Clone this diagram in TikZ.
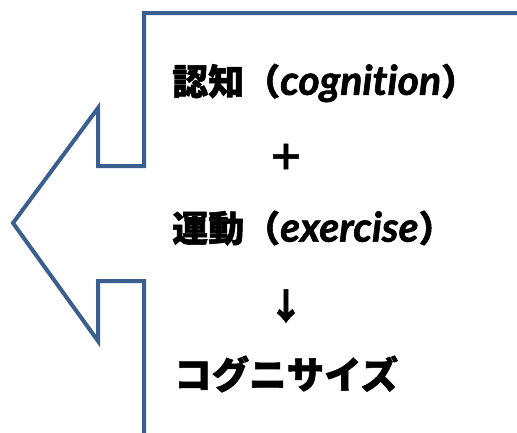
\documentclass[tikz,border=0pt]{standalone}
\usepackage{fontspec}
\newfontfamily\jpfont{Noto Sans CJK JP}[FakeBold=1.5]
\newfontfamily\latfont{Lato}[Ligatures=NoCommon,FakeBold=1.5]
\newcommand\latin[1]{{\latfont\bfseries\itshape\fontsize{41}{44}\selectfont #1}}
\definecolor{calloutblue}{RGB}{58,95,143}
\begin{document}
\begin{tikzpicture}[x=1pt,y=-1pt,
  txt/.style={anchor=west,inner sep=0pt,font=\jpfont\bfseries\fontsize{36}{40}\selectfont},
  sym/.style={anchor=center,inner sep=0pt,font=\jpfont\bfseries\fontsize{36}{40}\selectfont},
  outline/.style={draw=calloutblue,line width=4pt,line join=miter}]
\useasboundingbox (0,0) rectangle (517,432);
\draw[outline] (530,13) -- (144,13) -- (144,166) -- (98,166) -- (98,108)
  -- (13,223) -- (98,341) -- (98,281) -- (144,281) -- (144,445);
\node[txt] (l1) at (172,83) {認知（\latin{cognition}）};
\node[sym] (plus) at (286,157) {＋};
\node[txt] (l2) at (172,228) {運動（\latin{exercise}）};
\node[sym] (arr) at (286,306) {↓};
\node[txt,font=\jpfont\bfseries\fontsize{37.5}{40}\selectfont] (l3) at (174,374) {コグニサイズ};
\end{tikzpicture}
\end{document}
